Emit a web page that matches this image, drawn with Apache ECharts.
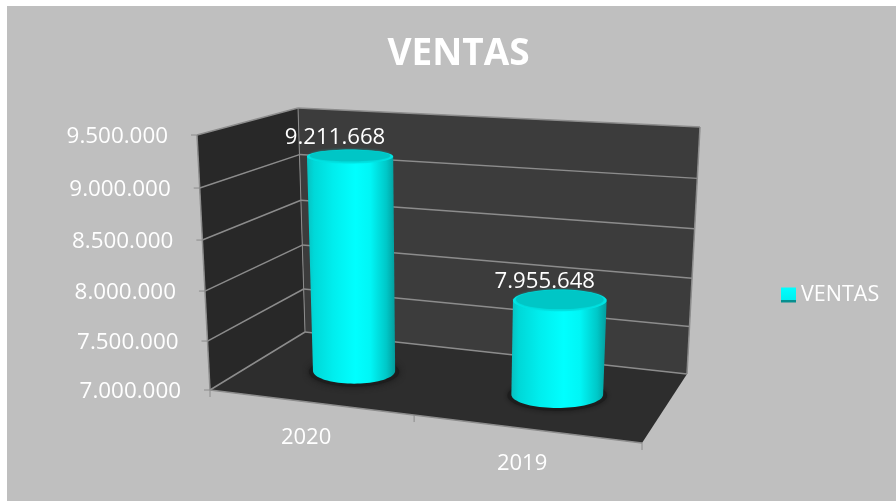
<!DOCTYPE html>
<html>
<head>
<meta charset="utf-8">
<style>html,body{margin:0;padding:0;background:#fff}#c{width:896px;height:501px}</style>
<script src="https://cdn.jsdelivr.net/npm/echarts@6/dist/echarts.min.js"></script>
</head>
<body>
<div id="c"></div>
<script>
var categories = ['2020', '2019'];
var ventas = [9211668, 7955648];
var yTicks = [7000000, 7500000, 8000000, 8500000, 9000000, 9500000];
var yTickLabels = ['7.000.000', '7.500.000', '8.000.000', '8.500.000', '9.000.000', '9.500.000'];
var dataLabels = ['9.211.668', '7.955.648'];
var seriesName = 'VENTAS';

var GRID = {left: 197, top: 135, width: 440, height: 255};
var CORNERS = {
  flb: [210, 390], flt: [197, 135], blb: [305, 332], blt: [298, 108],
  brb: [687, 374], brt: [700, 127], frb: [642, 443], frt: [655, 170]
};
var FONT = '"Open Sans", sans-serif';
var LINE = '#8c8c8c';

function mix(a, b, k) { return [a[0] + (b[0] - a[0]) * k, a[1] + (b[1] - a[1]) * k]; }
function warpU(u) { return u - 0.11 * u * (1 - u); }
function warpT(t) { return t - 0.05 * t * (1 - t); }
function proj(u, t, d) {
  var c = CORNERS, U = warpU(u), T = warpT(t);
  var fl = mix(c.flb, c.flt, T), fr = mix(c.frb, c.frt, T);
  var bl = mix(c.blb, c.blt, T), br = mix(c.brb, c.brt, T);
  return mix(mix(fl, fr, U), mix(bl, br, U), d);
}
function tOf(api, v) {
  return (GRID.top + GRID.height - api.coord([0, v])[1]) / GRID.height;
}
function uOf(api, i) {
  return (api.coord([i, yTicks[0]])[0] - GRID.left) / GRID.width;
}
function poly(points, fill) {
  return {type: 'polygon', shape: {points: points}, style: {fill: fill, stroke: 'none'}};
}
function line(a, b, w) {
  return {type: 'line', shape: {x1: a[0], y1: a[1], x2: b[0], y2: b[1]}, style: {stroke: LINE, lineWidth: w || 1.5}};
}
function txt(x, y, s, size, align) {
  return {type: 'text', x: x, y: y, style: {text: s, fill: '#fff', font: size + 'px ' + FONT, textAlign: align || 'center', textVerticalAlign: 'middle'}};
}

function renderBox(params, api) {
  var ch = [];
  ch.push(poly([proj(0, 0, 0), proj(0, 1, 0), proj(0, 1, 1), proj(0, 0, 1)], '#282828'));
  ch.push(poly([proj(0, 0, 1), proj(0, 1, 1), proj(1, 1, 1), proj(1, 0, 1)], '#3c3c3c'));
  ch.push(poly([proj(0, 0, 0), proj(0, 0, 1), proj(1, 0, 1), proj(1, 0, 0)], '#2d2d2d'));
  ch.push(line(proj(0, 0, 0), proj(0, 1, 0)));
  ch.push(line(proj(1, 0, 1), proj(1, 1, 1)));
  ch.push(line(proj(0, 0, 0), proj(1, 0, 0)));
  ch.push(line(proj(0, 0, 1), proj(0, 1, 1), 1));
  [0, 0.5, 1].forEach(function (u) {
    var p = proj(u, 0, 0);
    ch.push(line(p, [p[0], p[1] + 7], 1));
  });
  return {type: 'group', children: ch};
}

function renderGrid(params, api) {
  var v = api.value(1), t = tOf(api, v);
  var a = proj(0, t, 0), b = proj(0, t, 1), c = proj(1, t, 1);
  return {type: 'group', children: [
    line(a, b), line(b, c),
    line([a[0] - 6, a[1]], a, 1),
    txt(a[0] - 29, a[1] + 2, yTickLabels[params.dataIndex], 22.4, 'right')
  ]};
}

function ellipsePts(cx, cy, rx, ry, from, to, n) {
  var pts = [];
  for (var i = 0; i <= n; i++) {
    var a = from + (to - from) * i / n;
    pts.push([cx + rx * Math.cos(a), cy + ry * Math.sin(a)]);
  }
  return pts;
}
function ryAt(y) { return 7 + (y - 157) * 0.027; }

function renderBar(params, api) {
  var i = api.value(0), v = api.value(1);
  var u = uOf(api, i) + 0.004, t = tOf(api, v), D = 0.52, HW = 0.107;
  var base = proj(u, 0, D), top = proj(u, t, D);
  var rxB = (proj(u + HW, 0, D)[0] - proj(u - HW, 0, D)[0]) / 2;
  var rxT = (proj(u + HW, t, D)[0] - proj(u - HW, t, D)[0]) / 2;
  var ryB = ryAt(base[1]), ryT = ryAt(top[1]);
  var side = [[top[0] - rxT, top[1]]]
    .concat(ellipsePts(base[0], base[1], rxB, ryB, Math.PI, 0, 40))
    .concat([[top[0] + rxT, top[1]]]);
  var grad = new echarts.graphic.LinearGradient(0, 0, 1, 0, [
    {offset: 0, color: '#08c0c0'}, {offset: 0.08, color: '#00d8d8'}, {offset: 0.3, color: '#00eeee'},
    {offset: 0.55, color: '#00ffff'}, {offset: 0.72, color: '#00f6f6'},
    {offset: 0.9, color: '#00c8c8'}, {offset: 1, color: '#049c9c'}
  ]);
  return {type: 'group', children: [
    {type: 'polygon', shape: {points: ellipsePts(base[0], base[1] + 1, rxB + 4, ryB + 2, 0, Math.PI * 2, 60)},
     style: {fill: '#1d1d1d', shadowBlur: 6, shadowColor: '#1a1a1a'}},
    {type: 'polygon', shape: {points: side}, style: {fill: grad}},
    {type: 'polygon', shape: {points: ellipsePts(top[0], top[1], rxT, ryT, 0, Math.PI * 2, 60)}, style: {fill: '#00e6e6'}},
    {type: 'polygon', shape: {points: ellipsePts(top[0], top[1] - 0.8, rxT - 3, ryT - 1.4, 0, Math.PI * 2, 60)},
     style: {fill: '#00c6c6', shadowBlur: 3, shadowColor: '#00c6c6'}},
    txt(top[0] - 15, top[1] - 19, dataLabels[params.dataIndex], 22.2)
  ]};
}

function renderCat(params, api) {
  var p = proj(uOf(api, api.value(0)), 0, 0);
  return txt(p[0] - 3, p[1] + 35.5, categories[params.dataIndex], 22);
}

var chart = echarts.init(document.getElementById('c'), null, {renderer: 'canvas'});
var barData = ventas.map(function (v, i) { return [i, v]; });
chart.setOption({
  animation: false,
  backgroundColor: '#fff',
  graphic: [{type: 'rect', z: -10, shape: {x: 7, y: 6, width: 889, height: 495}, style: {fill: '#bfbfbf'}}],
  title: {
    text: seriesName, left: 453.5, top: 31, textAlign: 'center',
    textStyle: {color: '#fff', fontFamily: FONT, fontSize: 37, fontWeight: 'bold'}
  },
  legend: {
    data: [seriesName], left: 776, top: 279, itemWidth: 15, itemHeight: 15, itemGap: 0,
    icon: 'rect',
    textStyle: {color: '#fff', fontFamily: FONT, fontSize: 21.5, padding: [0, 0, 0, 0]}
  },
  grid: GRID,
  xAxis: {type: 'category', data: categories, show: false},
  yAxis: {type: 'value', min: 7000000, max: 9500000, interval: 500000, show: false},
  series: [
    {type: 'custom', name: 'box', silent: true, clip: false, z: 1, renderItem: renderBox, data: [[0, yTicks[0]]], encode: {x: 0, y: 1}},
    {type: 'custom', name: 'grid', silent: true, clip: false, z: 2, renderItem: renderGrid, data: yTicks.map(function (v) { return [0, v]; }), encode: {x: 0, y: 1}},
    {type: 'custom', name: 'cats', silent: true, clip: false, z: 2, renderItem: renderCat, data: categories.map(function (c, i) { return [i, yTicks[0]]; }), encode: {x: 0, y: 1}},
    {type: 'custom', name: seriesName, clip: false, z: 3, renderItem: renderBar, data: barData, encode: {x: 0, y: 1},
     itemStyle: {color: new echarts.graphic.LinearGradient(0, 0, 0, 1, [
       {offset: 0, color: '#00ffff'}, {offset: 0.8, color: '#00f0f0'}, {offset: 0.85, color: '#078f8f'}, {offset: 1, color: '#078f8f'}
     ])}}
  ]
});
</script>
</body>
</html>
